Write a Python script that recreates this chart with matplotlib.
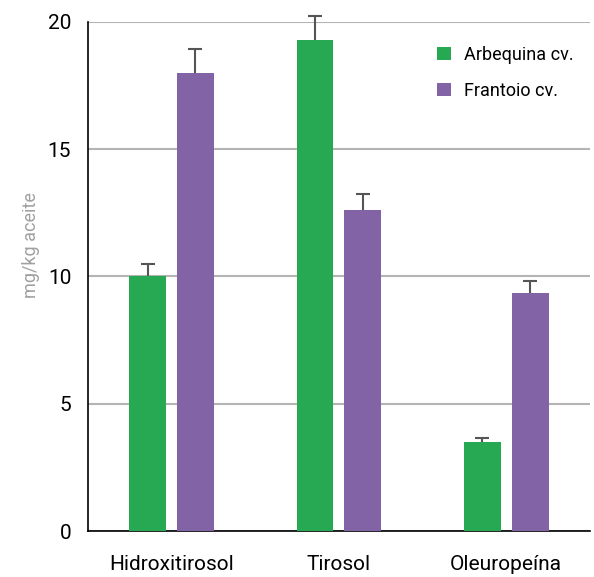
import matplotlib
matplotlib.use("Agg")
import matplotlib.pyplot as plt
import numpy as np

# datos del gráfico
compuestos = ["Hidroxitirosol", "Tirosol", "Oleuropeína"]
arbequina = [10.0, 19.3, 3.5]
arbequina_err = [0.5, 0.95, 0.17]
frantoio = [18.0, 12.6, 9.35]
frantoio_err = [0.93, 0.65, 0.47]
series_labels = ["Arbequina cv.", "Frantoio cv."]

plt.rcParams['font.family'] = ['Roboto', 'DejaVu Sans']

verde = "#27a852"
morado = "#8264a6"

fig = plt.figure(figsize=(5.94, 5.77), dpi=100)
ax = fig.add_axes([0.148, 0.0797, 0.845, 0.8823])

x = np.arange(len(compuestos))
w = 0.22
off = 0.143

def barras(xs, vals, errs, color, label):
    ax.bar(xs, vals, w, color=color, label=label, zorder=3)
    # solo error hacia arriba, sin tapa inferior
    eb = ax.errorbar(xs, vals, yerr=[np.zeros(len(vals)), errs], fmt="none",
                     ecolor="#555555", elinewidth=1.5, capsize=5, capthick=1.5,
                     zorder=4)
    eb[1][0].set_visible(False)
    for c in eb[1]:
        c.set_clip_on(False)
    for c in eb[2]:
        c.set_clip_on(False)

barras(x - off, arbequina, arbequina_err, verde, series_labels[0])
barras(x + off, frantoio, frantoio_err, morado, series_labels[1])

ax.set_xlim(-0.5, 2.5)
ax.set_ylim(0, 20)
ax.set_yticks([0, 5, 10, 15, 20])
ax.set_xticks(x)
ax.set_xticklabels(compuestos, fontsize=15)
ax.tick_params(axis="y", labelsize=15, length=0, pad=12)
ax.tick_params(axis="x", length=0, pad=17)
ax.yaxis.grid(True, color="#b4b4b4", linewidth=1.5, zorder=0)
ax.set_axisbelow(True)
for s in ["top", "right"]:
    ax.spines[s].set_visible(False)
ax.spines["left"].set_linewidth(1.2)
ax.spines["bottom"].set_linewidth(1.2)

fig.text(0.052, 0.575, "mg/kg aceite", rotation=90, color="#a0a0a0",
         fontsize=13, ha="center", va="center")

ax.legend(loc="upper right", bbox_to_anchor=(1.0, 0.985), frameon=False,
          fontsize=13, handlelength=0.8, handleheight=0.8, handletextpad=0.7,
          labelspacing=1.0)

fig.savefig("out.png", dpi=100)
